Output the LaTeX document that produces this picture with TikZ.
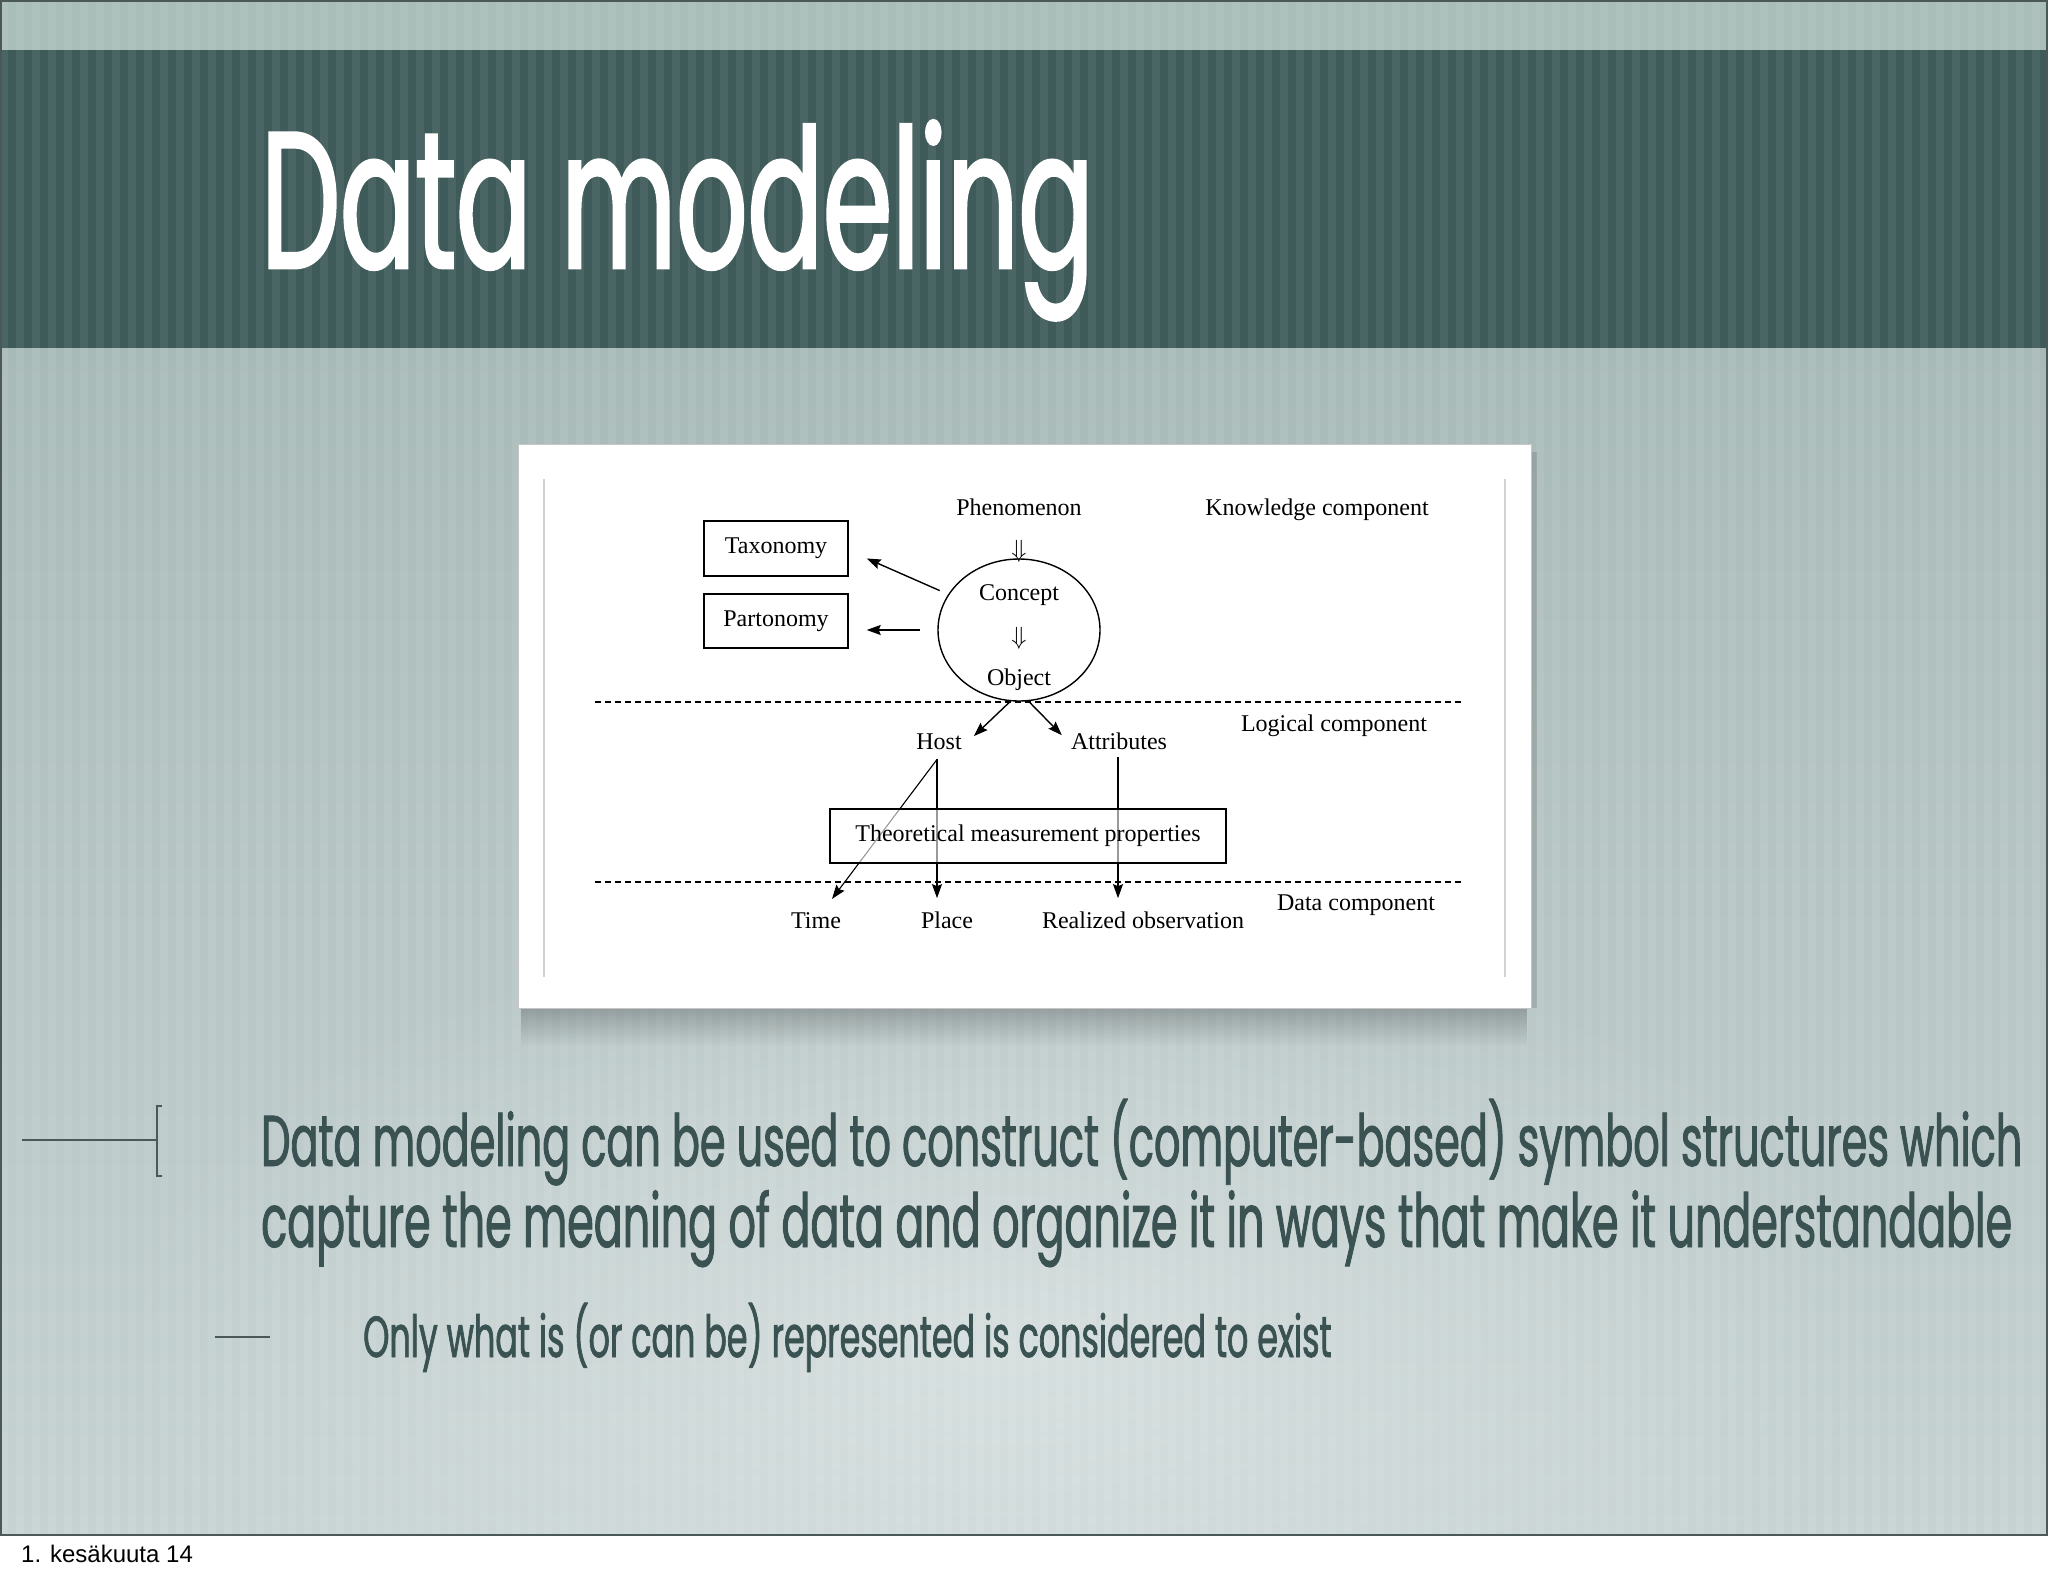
\documentclass[tikz,border=0pt]{standalone}
\usepackage{fontspec}
\setmainfont{Liberation Serif}
\newfontfamily\slidefont[FakeStretch=0.575,FakeBold=1.2]{Poppins}
\newfontfamily\titlefont[FakeStretch=0.575,FakeBold=1.5]{Poppins}
\newfontfamily\datefont{Liberation Sans}
\usetikzlibrary{positioning,arrows.meta,shapes.geometric,fadings}

\definecolor{topstrip}{RGB}{169,189,185}
\definecolor{band}{RGB}{62,90,89}
\definecolor{bgtop}{RGB}{168,186,184}
\definecolor{bgbot}{RGB}{198,210,210}
\definecolor{ink}{RGB}{59,82,82}
\definecolor{rule}{RGB}{74,88,88}

\tikzfading[name=shadowfade, top color=transparent!30, bottom color=transparent!100]
\tikzfading[name=glowfade, inner color=transparent!0, outer color=transparent!100]

\tikzset{
  lbl/.style={font=\fontsize{24}{28}\selectfont, inner sep=2pt, anchor=base},
  box/.style={draw, line width=1.4pt, font=\fontsize{24}{28}\selectfont, inner sep=0pt},
  arr/.style={line width=1.4pt, -{Stealth[length=14pt,width=10pt,inset=2pt]}},
  sep/.style={line width=1.3pt, dash pattern=on 6pt off 4pt},
  slide/.style={text=ink, anchor=base west, inner sep=0pt},
}

\begin{document}
\begin{tikzpicture}[x=1pt,y=-1pt]
\useasboundingbox (0,0) rectangle (2048,1576);
\fill[white] (0,0) rectangle (2048,1576);

% slide background
\shade[top color=bgtop, bottom color=bgbot] (0,348) rectangle (2048,1535);
\fill[white, opacity=0.35, path fading=glowfade] (1000,1350) ellipse [x radius=900, y radius=450];
\fill[topstrip] (0,0) rectangle (2048,50);
\fill[band] (0,50) rectangle (2048,348);
\foreach \x in {0,16,...,2032}
  \fill[white, opacity=0.07] (\x,0) rectangle ++(8,1535);
\draw[rule, line width=2pt] (1,1) rectangle (2047,1535);

% title
\node[slide, text=white, font=\titlefont\fontsize{194}{194}\selectfont] (title) at (261,268) {Data modeling};

% figure panel
\fill[black, opacity=0.35, path fading=shadowfade] (522,1004) rectangle (1530,1046);
\fill[black, opacity=0.12] (1531,452) rectangle (1537,1008);
\draw[gray!45, fill=white, line width=1pt] (518,444) rectangle (1531,1008);
\draw[gray!35, line width=2pt] (544,479) -- (544,977) (1505,479) -- (1505,977);

% knowledge part
\node[lbl] (phen) at (1019,515) {Phenomenon};
\node[lbl] (know) at (1317,515) {Knowledge component};
\node[box, minimum width=144pt, minimum height=55pt] (tax) at (776,548.5) {Taxonomy};
\node[box, minimum width=144pt, minimum height=54pt] (par) at (776,621) {Partonomy};
\node[draw, ellipse, line width=1.4pt, minimum width=162pt, minimum height=142pt, inner sep=0pt] (circ) at (1019,630) {};
\node[font=\fontsize{26}{26}\selectfont, inner sep=0pt] (dn1) at (1019,551) {$\Downarrow$};
\node[lbl] (con) at (1019,600) {Concept};
\node[font=\fontsize{26}{26}\selectfont, inner sep=0pt] (dn2) at (1019,638) {$\Downarrow$};
\node[lbl] (obj) at (1019,685) {Object};

\draw[arr] ([xshift=-11pt]circ.150) -- ([xshift=18pt,yshift=-10pt]tax.east);
\draw[arr] ([xshift=-17pt]circ.west) -- ([xshift=18pt,yshift=-9pt]par.east);

% logical part
\draw[sep] (595,702) -- (1461,702);
\node[lbl] (logic) at (1334,731) {Logical component};
\node[lbl] (host) at (939,749) {Host};
\node[lbl] (attr) at (1119,749) {Attributes};
\draw[arr] ([xshift=-9pt]circ.south) -- ([xshift=10pt,yshift=-5pt]host.north east);
\draw[arr] ([xshift=10pt]circ.south) -- ([xshift=-7pt,yshift=-5pt]attr.north west);

% data part
\draw[sep] (595,882) -- (1461,882);
\node[lbl] (time) at (816,928) {Time};
\node[lbl] (place) at (947,928) {Place};
\node[lbl] (obs) at (1143,928) {Realized observation};
\node[lbl] (data) at (1356,910) {Data component};
\draw[arr, line width=1.1pt] ([xshift=-2pt,yshift=-8pt]host.south) -- ([xshift=16pt,yshift=11pt]time.north);
\draw[arr, line width=1.1pt] ([xshift=-2pt,yshift=-8pt]host.south) -- ([xshift=-10pt,yshift=11pt]place.north);
\draw[arr, line width=1.1pt] ([xshift=-1pt,yshift=-6pt]attr.south) -- ([xshift=-25pt,yshift=11pt]obs.north);
\node[box, minimum width=396pt, minimum height=54pt, fill=white, fill opacity=0.6, text opacity=1] (tmp) at (1028,836) {Theoretical measurement properties};

% bullet text
\draw[rule, line width=1.5pt] (22,1140) -- (157,1140) (162,1106) -- (157,1106) -- (157,1176) -- (162,1176);
\node[slide, font=\slidefont\fontsize{72}{80}\selectfont] (point) at (261,1166) {Data modeling can be used to construct (computer-based) symbol structures which};
\node[slide, font=\slidefont\fontsize{74.5}{80}\selectfont] (point2) at (261,1247) {capture the meaning of data and organize it in ways that make it understandable};
\draw[rule, line width=1.5pt] (215,1337) -- (270,1337);
\node[slide, font=\slidefont\fontsize{58}{60}\selectfont] (sub) at (363,1357) {Only what is (or can be) represented is considered to exist};

\node[font=\datefont\fontsize{24}{26}\selectfont, anchor=base west, inner sep=0pt] (date) at (21,1562) {1. kesäkuuta 14};
\end{tikzpicture}
\end{document}
